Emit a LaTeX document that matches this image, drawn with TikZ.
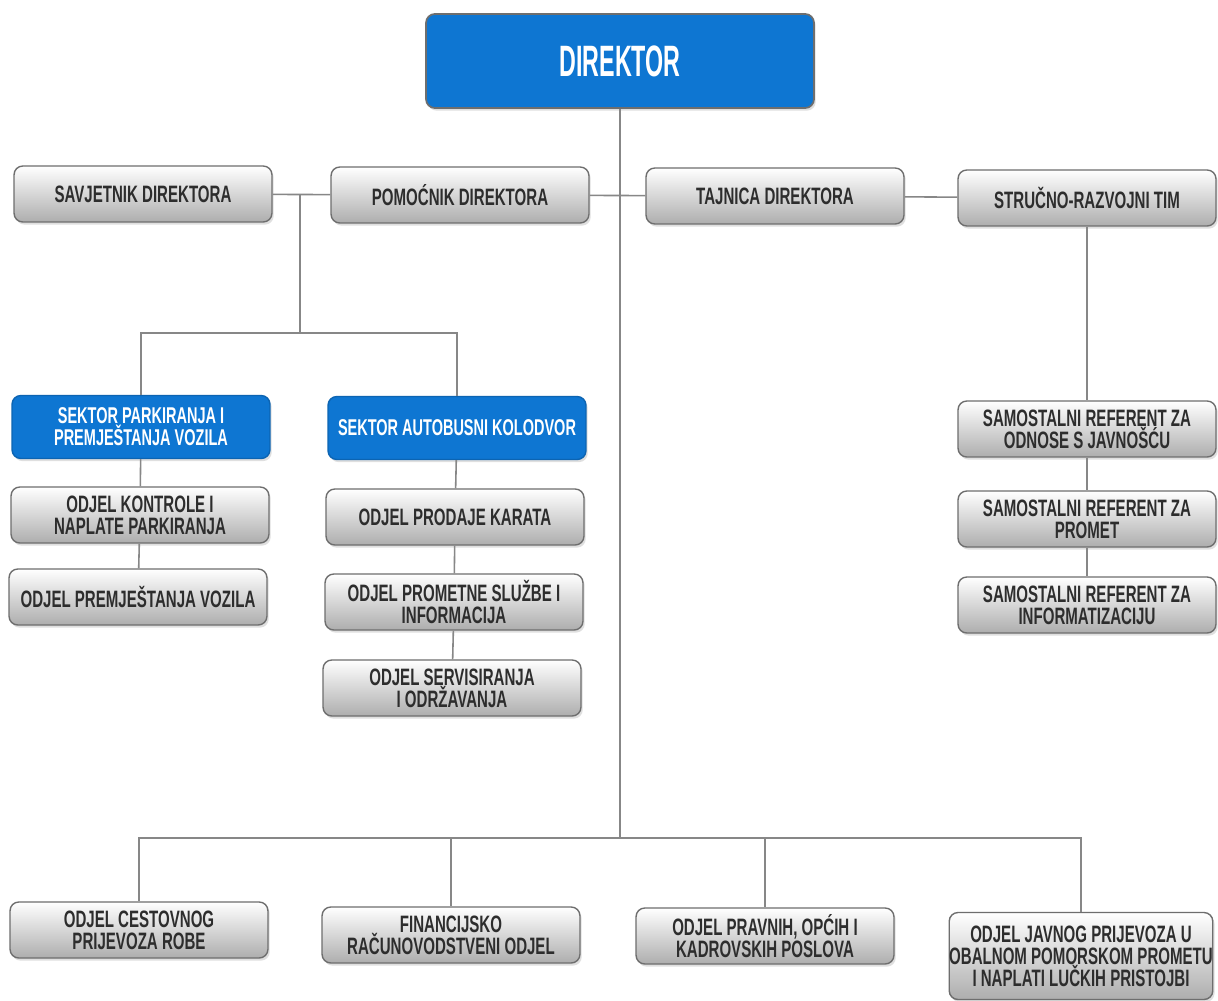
\documentclass[tikz,border=0pt]{standalone}
\usepackage{fontspec}
\setmainfont[FakeStretch=0.635]{Liberation Sans}
\newfontfamily\dirfont[FakeStretch=0.53]{Liberation Sans}
\usetikzlibrary{shadows}
\definecolor{plava}{RGB}{14,118,210}
\definecolor{linija}{RGB}{135,135,135}
\definecolor{okvir}{RGB}{110,110,110}
\definecolor{tekst}{RGB}{45,45,45}
\tikzset{
  ured/.style={draw=okvir,line width=0.8pt,rounded corners=5pt,top color=white,bottom color=black!32,
    text=tekst,align=center,font=\bfseries\fontsize{13.5}{12.5}\selectfont,
    minimum width=5.16cm,minimum height=1.12cm,inner sep=0pt,
    drop shadow={opacity=0.25,shadow xshift=1pt,shadow yshift=-1.5pt}},
  sektor/.style={ured,draw=plava!85!black,top color=plava,bottom color=plava,text=white,minimum height=1.26cm,
    font=\bfseries\fontsize{13}{12.5}\selectfont},
  veza/.style={draw=linija,line width=0.9pt}
}
\begin{document}
\begin{tikzpicture}[x=0.02cm,y=-0.02cm]
\useasboundingbox[fill=white] (0,0) rectangle (1218,1001);
\node[sektor,draw=okvir,line width=1pt,minimum width=7.76cm,minimum height=1.88cm,font=\dirfont\bfseries\fontsize{25}{25}\selectfont] (dir) at (620,61) {DIREKTOR};
\node[ured] (savj) at (143,194) {SAVJETNIK DIREKTORA};
\node[ured] (pom) at (460,195) {POMOĆNIK DIREKTORA};
\node[ured] (taj) at (775,196) {TAJNICA DIREKTORA};
\node[ured] (str) at (1087,198) {STRUČNO-RAZVOJNI TIM};
\node[sektor] (sp) at (141,427) {SEKTOR PARKIRANJA I\\PREMJEŠTANJA VOZILA};
\node[sektor] (sa) at (457,428) {SEKTOR AUTOBUSNI KOLODVOR};
\node[ured] (ok) at (140,515) {ODJEL KONTROLE I\\NAPLATE PARKIRANJA};
\node[ured] (op) at (138,597) {ODJEL PREMJEŠTANJA VOZILA};
\node[ured] (opk) at (455,517) {ODJEL PRODAJE KARATA};
\node[ured] (opsi) at (454,602) {ODJEL PROMETNE SLUŽBE I\\INFORMACIJA};
\node[ured] (oso) at (452,688) {ODJEL SERVISIRANJA\\I ODRŽAVANJA};
\node[ured] (sr1) at (1087,429) {SAMOSTALNI REFERENT ZA\\ODNOSE S JAVNOŠĆU};
\node[ured] (sr2) at (1087,519) {SAMOSTALNI REFERENT ZA\\PROMET};
\node[ured] (sr3) at (1087,605) {SAMOSTALNI REFERENT ZA\\INFORMATIZACIJU};
\node[ured] (b1) at (139,930) {ODJEL CESTOVNOG\\PRIJEVOZA ROBE};
\node[ured] (b2) at (451,935) {FINANCIJSKO\\RAČUNOVODSTVENI ODJEL};
\node[ured] (b3) at (765,936) {ODJEL PRAVNIH, OPĆIH I\\KADROVSKIH POSLOVA};
\node[ured,minimum width=5.24cm,minimum height=1.74cm] (b4) at (1081,956) {ODJEL JAVNOG PRIJEVOZA U\\OBALNOM POMORSKOM PROMETU\\I NAPLATI LUČKIH PRISTOJBI};
\coordinate (j1) at (300,195);
\coordinate (j2) at (300,333);
\coordinate (jb) at (620,838);
\draw[veza] (savj) -- (pom);
\draw[veza] (pom) -- (taj);
\draw[veza] (taj) -- (str);
\draw[veza] (dir) -- (jb);
\draw[veza] (j1) -- (j2);
\draw[veza] (j2) -| (sp.north);
\draw[veza] (j2) -| (sa.north);
\draw[veza] (sp) -- (ok);
\draw[veza] (ok) -- (op);
\draw[veza] (sa) -- (opk);
\draw[veza] (opk) -- (opsi);
\draw[veza] (opsi) -- (oso);
\draw[veza] (str) -- (sr1);
\draw[veza] (sr1) -- (sr2);
\draw[veza] (sr2) -- (sr3);
\draw[veza] (jb) -| (b1.north);
\draw[veza] (jb) -| (b2.north);
\draw[veza] (jb) -| (b3.north);
\draw[veza] (jb) -| (b4.north);
\end{tikzpicture}
\end{document}
